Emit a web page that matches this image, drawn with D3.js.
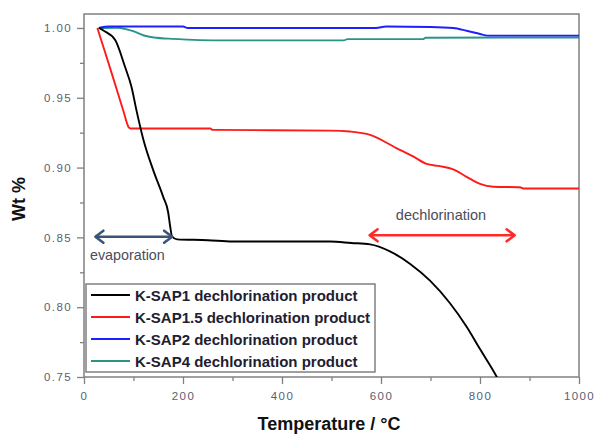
<!DOCTYPE html>
<html><head><meta charset="utf-8">
<script src="https://cdn.jsdelivr.net/npm/d3@7/dist/d3.min.js"></script>
<style>body{margin:0;background:#fff;}svg{display:block;}</style>
</head><body>
<svg id="chart" width="595" height="437"></svg>
<script>
// ---- data ----
const seriesNames = ["K-SAP1 dechlorination product","K-SAP1.5 dechlorination product","K-SAP2 dechlorination product","K-SAP4 dechlorination product"];
const seriesColors = ["#000000","#ff1a1a","#1e1eff","#2a9488"];

const sap1T = [30,40,63,83,96,106,120,140,160,170,174,178,188,250,300,400,497,540,578,618,659,699,739,773,800,834,840];
const sap1V = [1.000,0.998,0.9914,0.972,0.9577,0.941,0.920,0.898,0.879,0.868,0.858,0.8505,0.8486,0.848,0.847,0.847,0.847,0.846,0.845,0.840,0.831,0.819,0.803,0.786,0.770,0.750,0.746];

const sap15T = [27,40,60,80,90,94,255,260,497,537,578,631,665,692,719,746,773,800,827,881,887,1000];
const sap15V = [1.000,0.9855,0.963,0.940,0.929,0.928,0.928,0.927,0.9265,0.9258,0.9234,0.914,0.908,0.9026,0.901,0.8987,0.8934,0.8883,0.8863,0.8859,0.885,0.885];

const sap2T = [30,50,110,200,210,590,610,700,746,773,800,815,1000];
const sap2V = [1.000,1.001,1.001,1.001,1.000,1.000,1.001,1.0007,1.000,0.998,0.9957,0.9945,0.9945];

const sap4T = [30,67,101,121,141,182,283,525,532,685,690,1000];
const sap4V = [1.000,1.0002,0.9975,0.9946,0.9932,0.9922,0.9911,0.9911,0.9920,0.9920,0.9930,0.9932];

const xMajorTicks = [0,200,400,600,800,1000];
const xMinorTicks = [100,300,500,700,900];
const yMajorTicks = [0.75,0.80,0.85,0.90,0.95,1.00];
const yMinorTicks = [0.775,0.825,0.875,0.925,0.975];

const xTitle = "Temperature / °C";
const yTitle = "Wt %";
const evapLabel = "evaporation";
const dechlorLabel = "dechlorination";
const evapRange = [23,178], evapLevel = 0.8505;
const dechlorRange = [577,870], dechlorLevel = 0.8515;

// ---- layout ----
const L = 84, R = 579, T = 14, B = 377;
const svg = d3.select("#chart");
const x = d3.scaleLinear().domain([0,1000]).range([L,R]);
const y = d3.scaleLinear().domain([0.75,1.01]).range([B,T]);

const tickColor = "#808080";
const labColor = "#586073";

svg.append("defs").append("clipPath").attr("id","clip")
  .append("rect").attr("x",L).attr("y",T).attr("width",R-L).attr("height",B-T);

// frame
svg.append("rect").attr("x",L).attr("y",T).attr("width",R-L).attr("height",B-T)
  .attr("fill","none").attr("stroke",tickColor).attr("stroke-width",1.5);

function styleAxis(g){
  g.select(".domain").remove();
  g.selectAll(".tick line").attr("stroke",tickColor).attr("stroke-width",1.3);
  g.selectAll(".tick text").attr("fill",labColor)
    .style("font-family","Liberation Sans, Arial, sans-serif").style("font-size","11.5px").style("letter-spacing","1.4px");
}
const xAx = svg.append("g").attr("transform",`translate(0,${B})`)
  .call(d3.axisBottom(x).tickValues(xMajorTicks).tickFormat(d3.format("d")).tickSize(7).tickPadding(8));
styleAxis(xAx);
const xMin = svg.append("g").attr("transform",`translate(0,${B})`)
  .call(d3.axisBottom(x).tickValues(xMinorTicks).tickFormat("").tickSize(4));
styleAxis(xMin);
const yAx = svg.append("g").attr("transform",`translate(${L},0)`)
  .call(d3.axisLeft(y).tickValues(yMajorTicks).tickFormat(d3.format(".2f")).tickSize(7).tickPadding(5));
styleAxis(yAx);
const yMin = svg.append("g").attr("transform",`translate(${L},0)`)
  .call(d3.axisLeft(y).tickValues(yMinorTicks).tickFormat("").tickSize(4));
styleAxis(yMin);

// series
const allT = [sap1T,sap15T,sap2T,sap4T];
const allV = [sap1V,sap15V,sap2V,sap4V];
const line = d3.line().x(d=>x(d[0])).y(d=>y(d[1])).curve(d3.curveMonotoneX);
const plot = svg.append("g").attr("clip-path","url(#clip)");
[3,2,1,0].forEach(i=>{
  const pts = allT[i].map((t,k)=>[t,allV[i][k]]);
  plot.append("path").attr("d",line(pts)).attr("fill","none")
    .attr("stroke",seriesColors[i]).attr("stroke-width",1.9).attr("stroke-linejoin","round");
});

// annotations
function dblArrow(x1,x2,yy,color){
  const g = svg.append("g").attr("stroke",color).attr("stroke-width",2.6).attr("fill","none")
    .attr("stroke-linecap","round").attr("stroke-linejoin","round");
  g.append("line").attr("x1",x1+1).attr("x2",x2-1).attr("y1",yy).attr("y2",yy);
  g.append("path").attr("d",`M${x1+8},${yy-6} L${x1},${yy} L${x1+8},${yy+6}`);
  g.append("path").attr("d",`M${x2-8},${yy-6} L${x2},${yy} L${x2-8},${yy+6}`);
}
dblArrow(x(evapRange[0]),x(evapRange[1]),y(evapLevel),"#3a5578");
dblArrow(x(dechlorRange[0]),x(dechlorRange[1]),y(dechlorLevel),"#ff2a2a");
svg.append("text").attr("x",90).attr("y",260).text(evapLabel)
  .attr("fill","#4a4d5a").style("font-family","Liberation Sans, Arial, sans-serif").style("font-size","14.3px");
svg.append("text").attr("x",441).attr("y",220).attr("text-anchor","middle").text(dechlorLabel)
  .attr("fill","#4a4d5a").style("font-family","Liberation Sans, Arial, sans-serif").style("font-size","14.5px");

// legend
const lg = svg.append("g");
lg.append("rect").attr("x",86).attr("y",284).attr("width",289).attr("height",88)
  .attr("fill","#fff").attr("stroke",tickColor).attr("stroke-width",1.5);
seriesNames.forEach((n,i)=>{
  const yy = 295 + i*22;
  lg.append("line").attr("x1",91).attr("x2",130).attr("y1",yy).attr("y2",yy)
    .attr("stroke",seriesColors[i]).attr("stroke-width",2.2);
  lg.append("text").attr("x",135).attr("y",yy+5.5).text(n).attr("fill","#1e2030")
    .style("font-family","Liberation Sans, Arial, sans-serif").style("font-weight","bold").style("font-size","15px");
});

// titles
svg.append("text").attr("x",329).attr("y",430).attr("text-anchor","middle").text(xTitle)
  .attr("fill","#111").style("font-family","Liberation Sans, Arial, sans-serif").style("font-weight","bold").style("font-size","18px");
svg.append("text").attr("transform","translate(25,199) rotate(-90)").attr("text-anchor","middle").text(yTitle)
  .attr("fill","#111").style("font-family","Liberation Sans, Arial, sans-serif").style("font-weight","bold").style("font-size","18px");
</script>
</body></html>
